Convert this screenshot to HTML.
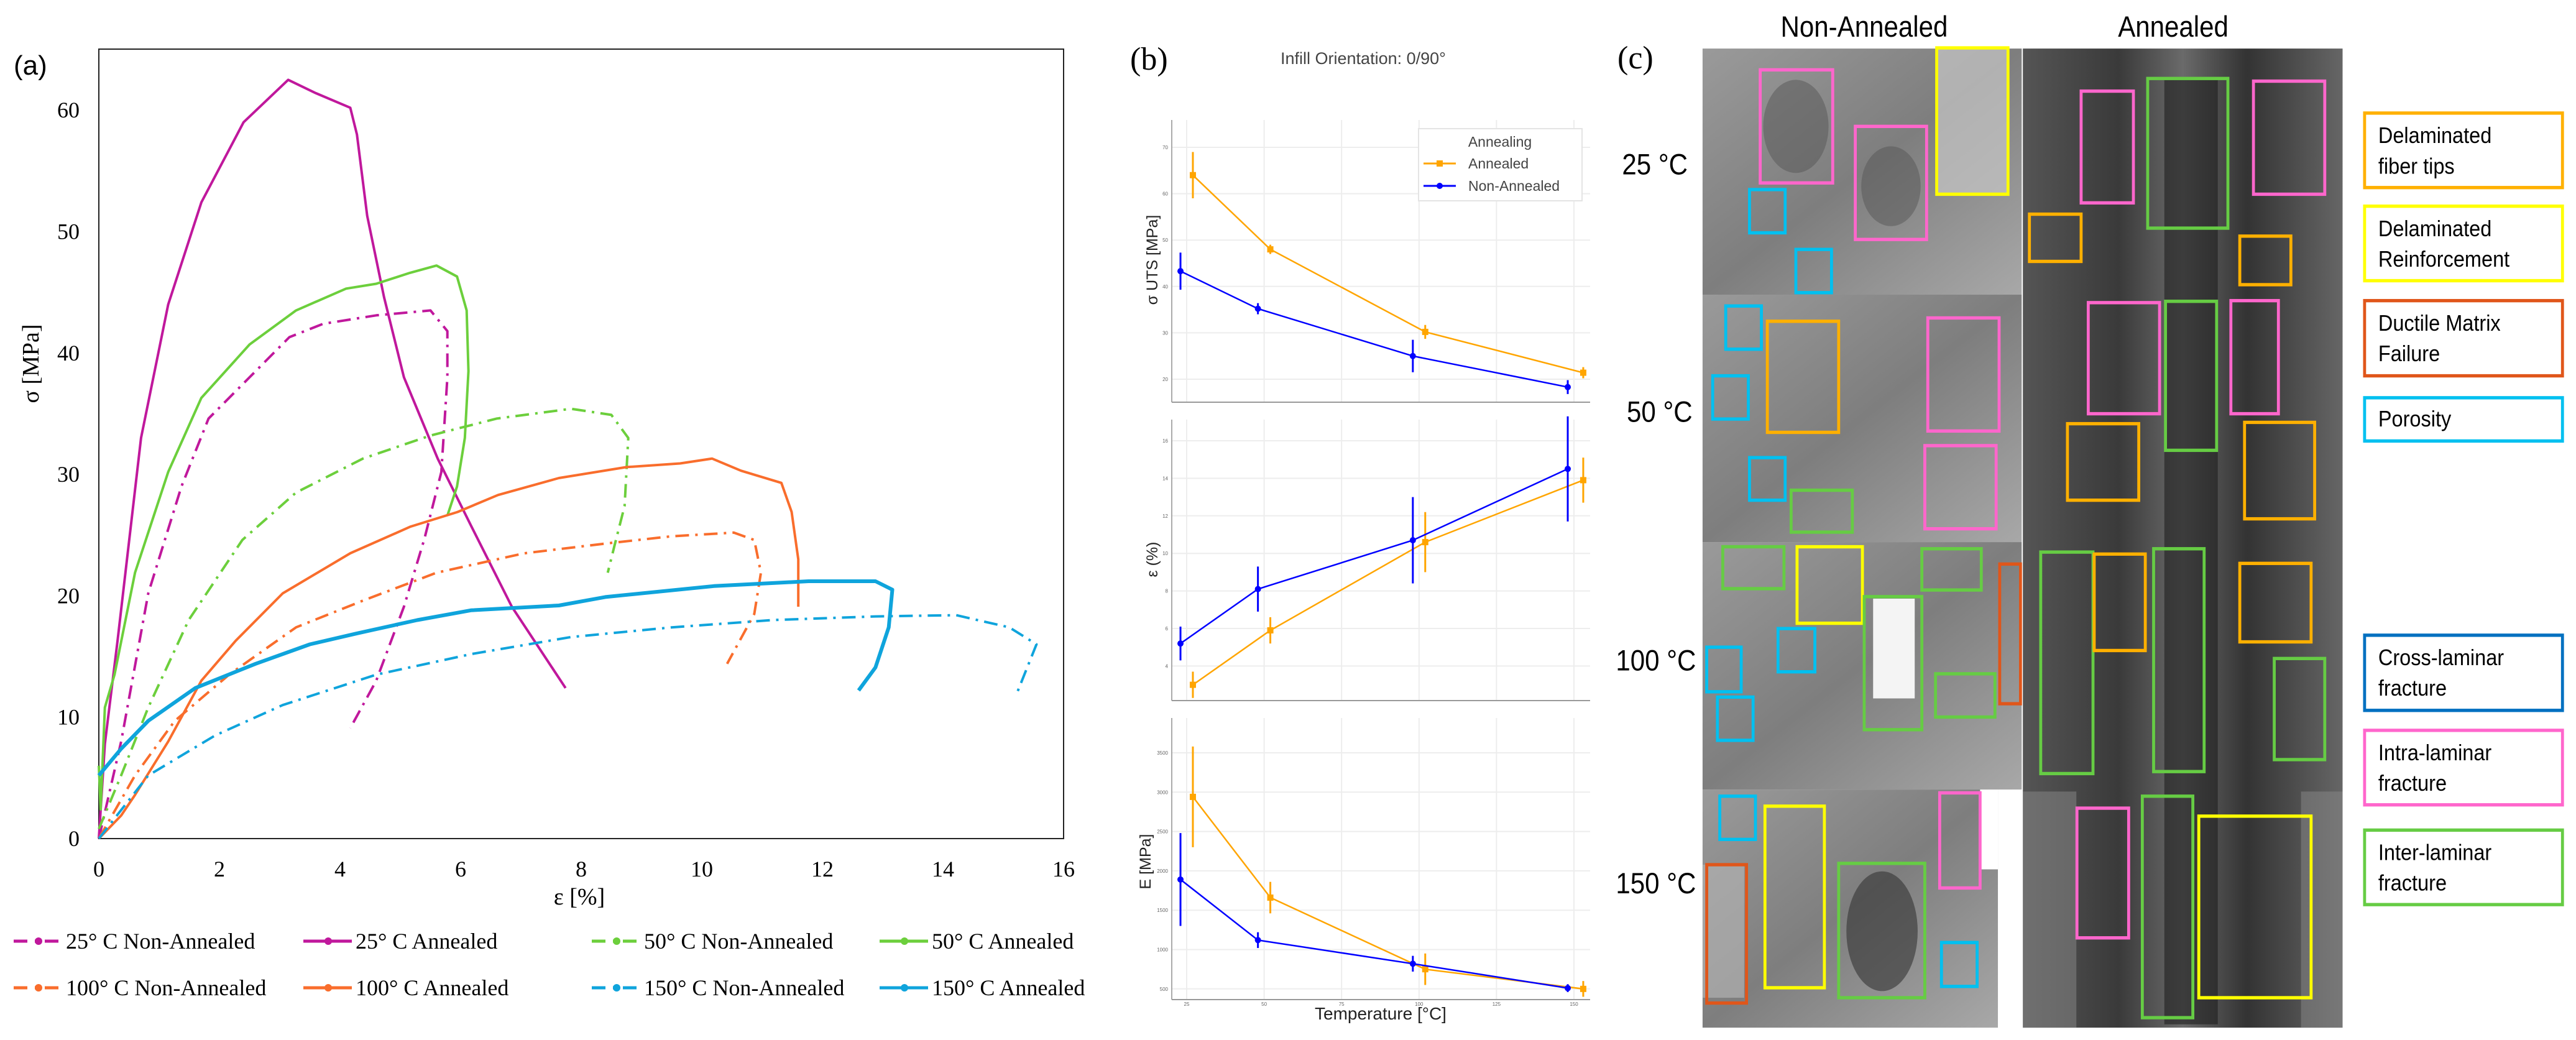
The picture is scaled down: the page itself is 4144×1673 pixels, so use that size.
<!DOCTYPE html>
<html><head><meta charset="utf-8"><style>
body{margin:0;background:#fff}
svg{display:block}
.serif{font-family:"Liberation Serif",serif}
.sans{font-family:"Liberation Sans",sans-serif}
</style></head><body>
<svg id="fig" width="4144" height="1673" viewBox="0 0 4144 1673" xmlns="http://www.w3.org/2000/svg">
<rect width="4144" height="1673" fill="#fff"/>
<!-- Panel a -->
<g id="pa">
<text x="22" y="120" class="sans" font-size="44">(a)</text>
<rect x="159" y="79" width="1552" height="1270" fill="none" stroke="#222" stroke-width="2"/>
<g id="a-ticks"></g>
<g id="a-lines"></g>
<text x="932" y="1455" text-anchor="middle" class="serif" font-size="38">ε [%]</text>
<text transform="translate(62,585) rotate(-90)" text-anchor="middle" class="serif" font-size="38">σ [MPa]</text>
<g id="a-legend"></g>
</g>
<!-- Panel b -->
<g id="pb">
<text x="1818" y="112" class="serif" font-size="52">(b)</text>
<text x="2193" y="103" text-anchor="middle" class="sans" font-size="27" fill="#444">Infill Orientation: 0/90°</text>
<g id="b-grid"></g>
<g id="b-marks"></g>
<text x="2221" y="1640" text-anchor="middle" class="sans" font-size="28" fill="#222">Temperature [°C]</text>
<text transform="translate(1862,418) rotate(-90)" text-anchor="middle" class="sans" font-size="25" fill="#222">σ UTS [MPa]</text>
<text transform="translate(1862,900) rotate(-90)" text-anchor="middle" class="sans" font-size="25" fill="#222">ε (%)</text>
<text transform="translate(1851,1386) rotate(-90)" text-anchor="middle" class="sans" font-size="25" fill="#222">E [MPa]</text>
<g>
<rect x="2282" y="207" width="263" height="116" fill="#fff" stroke="#e4e4e4" stroke-width="2"/>
<text x="2413" y="236" text-anchor="middle" class="sans" font-size="23" fill="#444">Annealing</text>
<line x1="2290" y1="263" x2="2342" y2="263" stroke="#ffa500" stroke-width="3"/><rect x="2311" y="258" width="10" height="10" fill="#ffa500"/>
<text x="2362" y="271" class="sans" font-size="23" fill="#444">Annealed</text>
<line x1="2290" y1="299" x2="2342" y2="299" stroke="#0000ff" stroke-width="3"/><circle cx="2316" cy="299" r="5" fill="#0000ff"/>
<text x="2362" y="307" class="sans" font-size="23" fill="#444">Non-Annealed</text>
</g>
</g>
<!-- Panel c -->
<g id="pc">
<text x="2602" y="110" class="serif" font-size="52">(c)</text>
<defs>
<linearGradient id="gna" x1="0" y1="0" x2="1" y2="1"><stop offset="0" stop-color="#9a9a9a"/><stop offset="0.5" stop-color="#7e7e7e"/><stop offset="1" stop-color="#a8a8a8"/></linearGradient>
<linearGradient id="gan" x1="0" y1="0" x2="1" y2="0"><stop offset="0" stop-color="#555"/><stop offset="0.3" stop-color="#3a3a3a"/><stop offset="0.5" stop-color="#6a6a6a"/><stop offset="0.7" stop-color="#333"/><stop offset="1" stop-color="#666"/></linearGradient>
</defs>
<g transform="translate(2650,0) scale(0.956,1.07)">
<text x="365" y="55" text-anchor="middle" class="sans" font-size="44">Non-Annealed</text>
<text x="885" y="55" text-anchor="middle" class="sans" font-size="44">Annealed</text>
<text x="68" y="262" text-anchor="end" class="sans" font-size="44">25 °C</text>
<text x="76" y="634" text-anchor="end" class="sans" font-size="44">50 °C</text>
<text x="82" y="1008" text-anchor="end" class="sans" font-size="44">100 °C</text>
<text x="82" y="1343" text-anchor="end" class="sans" font-size="44">150 °C</text>
<g>
<rect x="93" y="73" width="537" height="370" fill="url(#gna)"/>
<rect x="93" y="443" width="537" height="372" fill="url(#gna)"/>
<rect x="93" y="815" width="537" height="372" fill="url(#gna)"/>
<rect x="93" y="1187" width="497" height="358" fill="url(#gna)"/>
<rect x="560" y="1187" width="30" height="120" fill="#fff"/>
<rect x="632" y="73" width="538" height="1472" fill="url(#gan)"/>
<ellipse cx="250" cy="190" rx="55" ry="70" fill="#555" opacity="0.5"/>
<ellipse cx="410" cy="280" rx="50" ry="60" fill="#555" opacity="0.5"/>
<rect x="487" y="72" width="120" height="220" fill="#c8c8c8" opacity="0.7"/>
<rect x="380" y="900" width="70" height="150" fill="#f4f4f4"/>
<ellipse cx="395" cy="1400" rx="60" ry="90" fill="#333" opacity="0.6"/>
<rect x="93" y="1300" width="70" height="200" fill="#b0b0b0" opacity="0.7"/>
<rect x="870" y="120" width="90" height="1420" fill="#1e1e1e" opacity="0.6"/>
<rect x="632" y="1190" width="90" height="355" fill="#8a8a8a" opacity="0.5"/>
<rect x="1100" y="1190" width="70" height="355" fill="#8a8a8a" opacity="0.5"/>
</g>
<g id="c-boxes" fill="none" stroke-width="5"></g>
<g id="c-legend"></g>
</g>
</g>
</svg>
<script>
const NS="http://www.w3.org/2000/svg";
function mk(tag,attrs,parent){const e=document.createElementNS(NS,tag);for(const k in attrs)e.setAttribute(k,attrs[k]);parent.appendChild(e);return e;}

// ---------- Panel (a) data ----------
const xTicksA=[0,2,4,6,8,10,12,14,16];
const yTicksA=[0,10,20,30,40,50,60];
const s25A_x=[0,0.1,0.31,0.7,1.15,1.7,2.4,3.14,3.6,4.17,4.28,4.45,4.73,5.06,5.62,6.18,6.85,7.74];
const s25A_y=[0,7.8,16.3,33,44,52.4,59,62.5,61.4,60.2,58,51.3,44.6,38,31.3,25.7,19.1,12.4];
const s25N_x=[0,0.37,0.82,1.37,1.82,2.5,3.16,3.72,4.6,5.5,5.78,5.78,5.68,5.4,5.06,4.6,4.17];
const s25N_y=[0,8,20.2,29,34.6,38,41.3,42.4,43.1,43.5,41.8,38,30.2,24.7,19.1,13,9.1];
const s50A_x=[0,0.03,0.1,0.26,0.6,1.15,1.7,2.5,3.27,4.1,4.6,5.16,5.6,5.94,6.1,6.13,6.07,5.94,5.78];
const s50A_y=[6,2.4,10.8,13.5,21.9,30.2,36.3,40.7,43.5,45.3,45.7,46.6,47.2,46.3,43.5,38.5,33,29,26.6];
const s50N_x=[0,0.37,0.82,1.49,2.38,3.27,4.38,5.5,6.6,7.83,8.5,8.78,8.72,8.55,8.44];
const s50N_y=[0.8,5.2,10.8,18,24.6,28.5,31.3,33.2,34.6,35.4,34.9,33,27.4,24.1,21.9];
const s100A_x=[0,0.37,0.6,1.15,1.7,2.27,3.05,4.17,5.17,5.95,6.62,7.63,8.75,9.64,10.17,10.65,11.32,11.49,11.6,11.6];
const s100A_y=[0,1.9,3.6,8,13,16.3,20.2,23.5,25.7,26.9,28.3,29.7,30.6,30.9,31.3,30.3,29.3,26.9,23,19.1];
const s100N_x=[0,0.6,1.26,2.16,3.27,4.38,5.6,7.06,8.4,9.5,10.53,10.87,10.98,10.87,10.42];
const s100N_y=[0,5.2,9.7,13.5,17.4,19.6,21.9,23.5,24.3,24.9,25.2,24.6,21.9,18.5,14.4];
const s150A_x=[0,0.37,0.82,1.6,2.6,3.5,4.28,5.28,6.17,7.63,8.4,10.2,11.77,12.88,13.16,13.1,12.88,12.6];
const s150A_y=[5.2,7.4,9.7,12.4,14.4,16,16.9,18,18.8,19.2,19.9,20.8,21.2,21.2,20.5,17.4,14.1,12.2];
const s150N_x=[0,0.82,1.93,3.05,4.6,6.18,7.83,9.5,11.17,12.88,14.22,15.1,15.55,15.22];
const s150N_y=[0,5.2,8.5,11,13.5,15.2,16.6,17.4,18,18.3,18.4,17.4,16,11.9];

const XA=v=>159+v*97, YA=v=>1349-v*19.53;
const aT=document.getElementById('a-ticks');
xTicksA.forEach(v=>{const t=mk('text',{x:XA(v),y:1410,'text-anchor':'middle','class':'serif','font-size':36},aT);t.textContent=v;

});
yTicksA.forEach(v=>{const t=mk('text',{x:128,y:YA(v)+12,'text-anchor':'end','class':'serif','font-size':36},aT);t.textContent=v;

});

const seriesA=[
 {x:s25N_x,y:s25N_y,c:"#c0189c",d:true,label:"25° C Non-Annealed",name:"series-25c-non-annealed"},
 {x:s25A_x,y:s25A_y,c:"#c0189c",d:false,label:"25° C Annealed",name:"series-25c-annealed"},
 {x:s50N_x,y:s50N_y,c:"#6ccf3c",d:true,label:"50° C Non-Annealed",name:"series-50c-non-annealed"},
 {x:s50A_x,y:s50A_y,c:"#6ccf3c",d:false,label:"50° C Annealed",name:"series-50c-annealed"},
 {x:s100N_x,y:s100N_y,c:"#f96d2c",d:true,label:"100° C Non-Annealed",name:"series-100c-non-annealed"},
 {x:s100A_x,y:s100A_y,c:"#f96d2c",d:false,label:"100° C Annealed",name:"series-100c-annealed"},
 {x:s150N_x,y:s150N_y,c:"#0fa4dc",d:true,label:"150° C Non-Annealed",name:"series-150c-non-annealed"},
 {x:s150A_x,y:s150A_y,c:"#0fa4dc",d:false,label:"150° C Annealed",name:"series-150c-annealed"}];
const aL=document.getElementById('a-lines');
seriesA.forEach(s=>{
 let d=s.x.map((v,i)=>(i?'L':'M')+XA(v).toFixed(1)+' '+YA(s.y[i]).toFixed(1)).join(' ');
 const p=mk('path',{d:d,fill:'none',stroke:s.c,'stroke-width':s.d?4:(s.c=="#0fa4dc"?6:4),'stroke-linejoin':'round'},aL);
 if(s.d)p.setAttribute('stroke-dasharray','22 10 4 10');
 
 
});
const legPos=[[22,1526],[488,1526],[952,1526],[1415,1526],[22,1601],[488,1601],[952,1601],[1415,1601]];
const aLg=document.getElementById('a-legend');
seriesA.forEach((s,i)=>{
 const [lx,ly]=legPos[i];
 const g=mk('g',{},aLg);
 
 
 const l=mk('line',{x1:lx,y1:ly-12,x2:lx+78,y2:ly-12,stroke:s.c,'stroke-width':5},g);
 if(s.d)l.setAttribute('stroke-dasharray','22 12 4 12');
 mk('circle',{cx:lx+40,cy:ly-12,r:6,fill:s.c},g);
 const t=mk('text',{x:lx+84,y:ly,'class':'serif','font-size':36},g);t.textContent=s.label;
});

// ---------- Panel (b) data ----------
const tempsAnn=[27,52,102,153];
const tempsNon=[23,48,98,148];
const utsAnn=[64,48,30.2,21.4];
const utsAnnErr=[5,1,1.5,1.2];
const utsNon=[43.3,35.2,25,18.3];
const utsNonErr=[4,1.2,3.5,1.5];
const strAnn=[3.0,5.9,10.6,13.9];
const strAnnErr=[0.7,0.7,1.6,1.2];
const strNon=[5.2,8.1,10.7,14.5];
const strNonErr=[0.9,1.2,2.3,2.8];
const modAnn=[2940,1660,750,500];
const modAnnErr=[640,200,200,100];
const modNon=[1890,1120,820,510];
const modNonErr=[590,100,100,50];
const xTicksB=[25,50,75,100,125,150];
const yTicksUTS=[20,30,40,50,60,70];
const yTicksStr=[4,6,8,10,12,14,16];
const yTicksMod=[500,1000,1500,2000,2500,3000,3500];

const XB=t=>1909+(t-25)*4.984;
const LEFT=1885, RIGHT=2558;
const panels=[
 {Y:v=>237+(70-v)*7.46,top:193,bot:647,ticks:yTicksUTS,A:utsAnn,AE:utsAnnErr,N:utsNon,NE:utsNonErr,name:'uts'},
 {Y:v=>709+(16-v)*30.2,top:675,bot:1127,ticks:yTicksStr,A:strAnn,AE:strAnnErr,N:strNon,NE:strNonErr,name:'strain'},
 {Y:v=>1211+(3500-v)*0.1266,top:1155,bot:1608,ticks:yTicksMod,A:modAnn,AE:modAnnErr,N:modNon,NE:modNonErr,name:'modulus'}];
const bG=document.getElementById('b-grid'), bM=document.getElementById('b-marks');
panels.forEach(p=>{
 xTicksB.forEach(t=>{mk('line',{x1:XB(t),y1:p.top,x2:XB(t),y2:p.bot,stroke:'#ededed','stroke-width':2},bG);
  if(p.name==='modulus'){const tx=mk('text',{x:XB(t),y:p.bot+10,'text-anchor':'middle','class':'sans','font-size':8,fill:'#666'},bG);tx.textContent=t;}});
 p.ticks.forEach(v=>{mk('line',{x1:LEFT,y1:p.Y(v),x2:RIGHT,y2:p.Y(v),stroke:'#ededed','stroke-width':2},bG);
  const tx=mk('text',{x:LEFT-6,y:p.Y(v)+3,'text-anchor':'end','class':'sans','font-size':8,fill:'#666'},bG);tx.textContent=v;});
 mk('line',{x1:LEFT,y1:p.top,x2:LEFT,y2:p.bot,stroke:'#aaa','stroke-width':2},bG);
 mk('line',{x1:LEFT,y1:p.bot,x2:RIGHT,y2:p.bot,stroke:'#999','stroke-width':2},bG);
 [[tempsAnn,p.A,p.AE,'#ffa500','annealed'],[tempsNon,p.N,p.NE,'#0000ff','non-annealed']].forEach(([T,V,E,c,nm])=>{
  const d=T.map((t,i)=>(i?'L':'M')+XB(t).toFixed(1)+' '+p.Y(V[i]).toFixed(1)).join(' ');
  const pl=mk('path',{d:d,fill:'none',stroke:c,'stroke-width':2.5},bM);
  
  
  T.forEach((t,i)=>{
   const eb=mk('line',{x1:XB(t),y1:p.Y(V[i]+E[i]),x2:XB(t),y2:p.Y(V[i]-E[i]),stroke:c,'stroke-width':3},bM);
   
   
   let pt;
   if(nm==='annealed') pt=mk('rect',{x:XB(t)-5,y:p.Y(V[i])-5,width:10,height:10,fill:c},bM);
   else pt=mk('circle',{cx:XB(t),cy:p.Y(V[i]),r:5,fill:c},bM);
   
   
  });
 });
});

// ---------- Panel (c) annotation boxes ----------
const boxColors={o:'#ffb000',y:'#ffff00',r:'#e0561a',c:'#00c0f0',b:'#0070c0',p:'#ff66cc',g:'#66cc44'};
const boxList=[
 [190,105,312,275,'p'],[350,190,470,360,'p'],[487,72,607,292,'y'],[172,285,232,350,'c'],[250,375,310,440,'c'],
 [730,137,818,305,'p'],[842,118,977,343,'g'],[1020,122,1140,292,'p'],[643,322,730,393,'o'],[997,355,1083,428,'o'],
 [132,460,192,525,'c'],[202,483,322,650,'o'],[110,565,170,630,'c'],[472,478,592,648,'p'],[172,688,232,752,'c'],[242,737,345,800,'g'],[467,670,587,795,'p'],
 [742,455,862,622,'p'],[872,453,958,677,'g'],[982,452,1062,622,'p'],[707,637,827,752,'o'],[1005,635,1123,780,'o'],
 [127,822,230,885,'g'],[252,822,362,937,'y'],[462,825,562,887,'g'],[593,848,628,1058,'r'],[365,897,462,1097,'g'],[220,945,282,1010,'c'],[100,973,158,1040,'c'],[118,1048,178,1113,'c'],[485,1013,585,1078,'g'],
 [662,830,750,1163,'g'],[752,833,838,978,'o'],[852,825,937,1160,'g'],[997,847,1117,965,'o'],[1055,990,1140,1142,'g'],
 [122,1197,182,1262,'c'],[198,1212,298,1485,'y'],[100,1300,167,1508,'r'],[322,1298,467,1500,'g'],[492,1192,560,1335,'p'],[495,1417,555,1483,'c'],
 [723,1215,810,1410,'p'],[833,1197,918,1530,'g'],[928,1227,1117,1500,'y']];
const cB=document.getElementById('c-boxes');
boxList.forEach(b=>{const r=mk('rect',{x:b[0],y:b[1],width:b[2]-b[0],height:b[3]-b[1],stroke:boxColors[b[4]]},cB);
 
 });
const legC=[[170,282,'o',['Delaminated','fiber tips']],[310,422,'y',['Delaminated','Reinforcement']],[452,565,'r',['Ductile Matrix','Failure']],[598,663,'c',['Porosity']],
 [955,1068,'b',['Cross-laminar','fracture']],[1098,1210,'p',['Intra-laminar','fracture']],[1248,1360,'g',['Inter-laminar','fracture']]];
const cL=document.getElementById('c-legend');
legC.forEach(l=>{
 const g=mk('g',{},cL);
 
 
 mk('rect',{x:1207,y:l[0],width:333,height:l[1]-l[0],fill:'#fff',stroke:boxColors[l[2]],'stroke-width':5},g);
 l[3].forEach((s,i)=>{const t=mk('text',{x:1230,y:(l[3].length==1?l[0]+43:l[0]+45+i*46),'class':'sans','font-size':34},g);t.textContent=s;});
});
</script>
</body></html>
